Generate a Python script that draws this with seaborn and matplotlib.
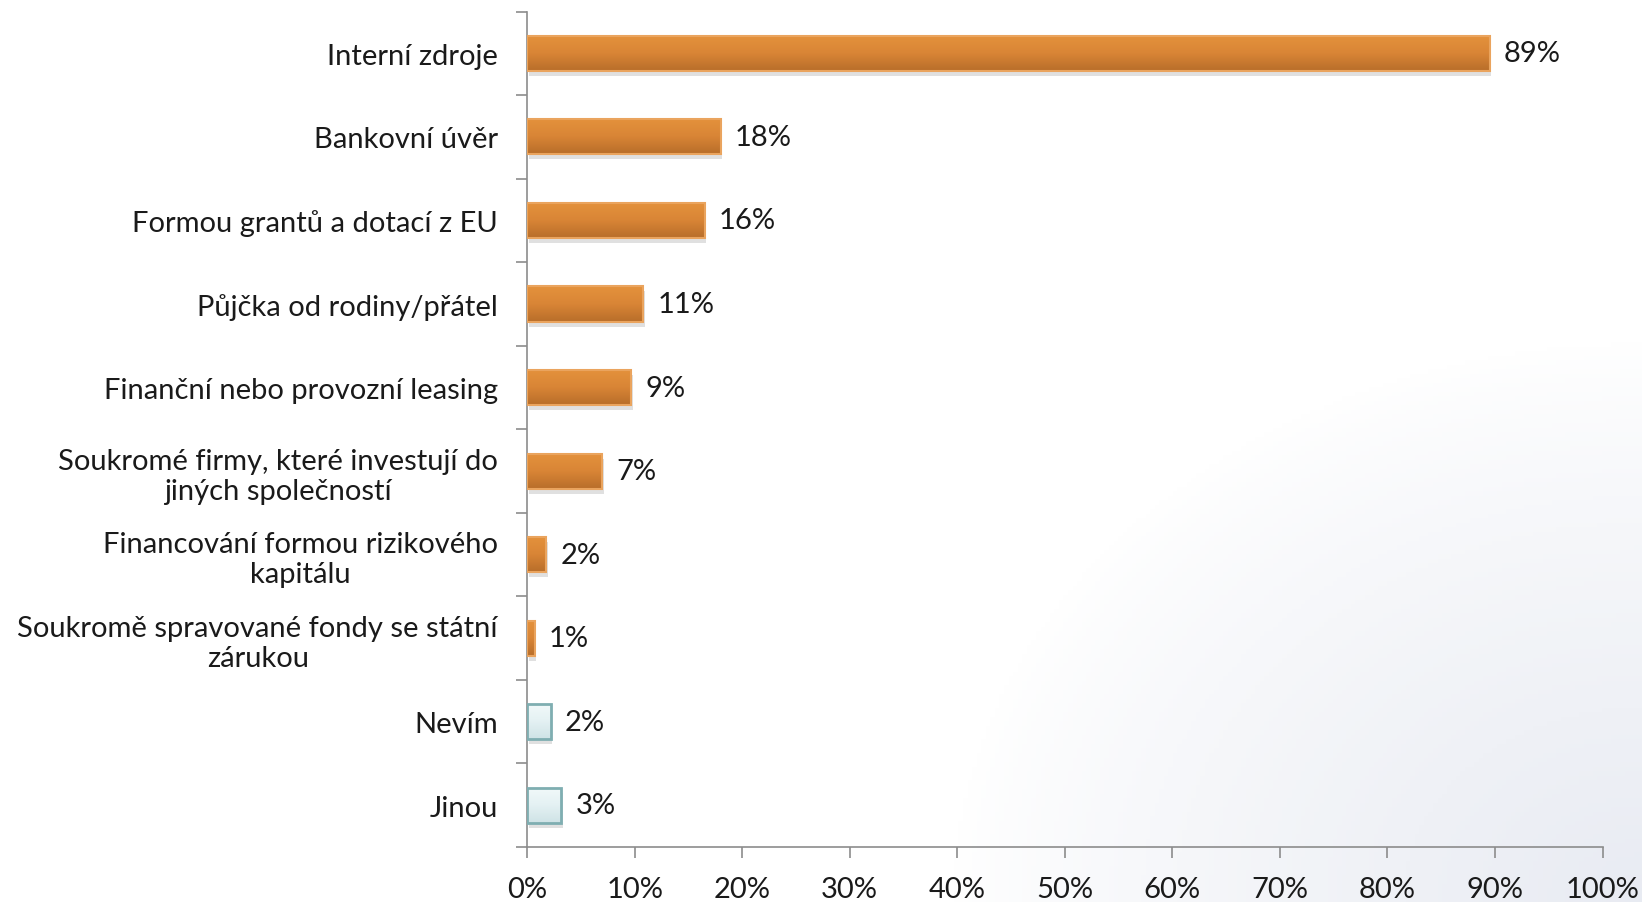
import numpy as np
import pandas as pd
import matplotlib
matplotlib.use("Agg")
import matplotlib.pyplot as plt
import seaborn as sns
from matplotlib.colors import LinearSegmentedColormap
from matplotlib.ticker import FixedLocator, PercentFormatter

categories = [
    "Interní zdroje",
    "Bankovní úvěr",
    "Formou grantů a dotací z EU",
    "Půjčka od rodiny/přátel",
    "Finanční nebo provozní leasing",
    "Soukromé firmy, které investují do\njiných společností",
    "Financování formou rizikového\nkapitálu",
    "Soukromě spravované fondy se státní\nzárukou",
    "Nevím",
    "Jinou",
]
values = [89.5, 18, 16.5, 10.8, 9.7, 7, 1.8, 0.7, 2.2, 3.2]
labels = ["89%", "18%", "16%", "11%", "9%", "7%", "2%", "1%", "2%", "3%"]
groups = ["main"] * 8 + ["other"] * 2
xticks = list(range(0, 101, 10))

sns.set_theme(style="white")
plt.rcParams["font.family"] = ["Lato", "DejaVu Sans"]

df = pd.DataFrame({"cat": categories, "val": values, "grp": groups})

fig = plt.figure(figsize=(16.42, 9.03), dpi=100)
fig.patch.set_facecolor("white")

# faint decorative background in the lower right corner
bg = fig.add_axes([0, 0, 1, 1], zorder=-10)
bg.set_axis_off()
yy, xx = np.mgrid[0:1:200j, 0:1:360j]
dist = np.sqrt(((xx - 1.0) / 0.42) ** 2 + ((yy - 0.0) / 0.62) ** 2)
alpha = np.clip(1.0 - dist, 0, 1) ** 0.8 * 0.55
rgba = np.zeros((200, 360, 4))
rgba[..., 0] = 0.84
rgba[..., 1] = 0.86
rgba[..., 2] = 0.91
rgba[..., 3] = alpha
bg.imshow(rgba, extent=[0, 1, 0, 1], origin="lower", aspect="auto")
bg.set_xlim(0, 1)
bg.set_ylim(0, 1)

ax = fig.add_axes([0.321, 0.061, 0.655, 0.925])
ax.patch.set_alpha(0)

palette = {"main": "#D98535", "other": "#E4F2F4"}
sns.barplot(data=df, y="cat", x="val", hue="grp", palette=palette, dodge=False,
            width=0.42, legend=False, ax=ax, orient="h", zorder=3)

orange_cmap = LinearSegmentedColormap.from_list("o", ["#E4923C", "#D98536", "#B86E2A"])
cyan_cmap = LinearSegmentedColormap.from_list("c", ["#F2F9FA", "#E4F1F3", "#CFE3E6"])
grad = np.linspace(0, 1, 64).reshape(-1, 1)

for p in list(ax.patches):
    w = p.get_width()
    if w <= 0:
        continue
    y0 = p.get_y()
    h = p.get_height()
    is_main = p.get_facecolor()[0] > 0.7 and p.get_facecolor()[2] < 0.5
    # shadow
    ax.add_patch(plt.Rectangle((p.get_x() + 0.15, y0 + 0.06), w, h,
                               facecolor="#000000", alpha=0.12, edgecolor="none", zorder=2))
    cmap = orange_cmap if is_main else cyan_cmap
    im = ax.imshow(grad, cmap=cmap, extent=[p.get_x(), p.get_x() + w, y0 + h, y0],
                   aspect="auto", zorder=4, interpolation="bicubic")
    im.set_clip_path(p)
    p.set_edgecolor("#EAA45E" if is_main else "#7FAEB1")
    p.set_linewidth(1.5 if is_main else 2.0)
    p.set_zorder(5)
    p.set_facecolor("none")

for i, (v, lab) in enumerate(zip(values, labels)):
    ax.text(v + 1.3, i, lab, va="center", ha="left", fontsize=21, color="#1a1a1a", zorder=6)

ax.set_xlim(0, 100)
ax.set_ylim(len(categories) - 0.5, -0.5)
ax.set_xticks(xticks)
ax.xaxis.set_major_formatter(PercentFormatter(decimals=0))
ax.set_xlabel("")
ax.set_ylabel("")

ax.set_yticks(range(len(categories)))
ax.set_yticklabels(categories, fontsize=21, color="#1a1a1a", multialignment="center")
ax.yaxis.set_minor_locator(FixedLocator(np.arange(-0.5, len(categories), 1)))
ax.tick_params(axis="y", which="major", length=0, pad=21)
ax.tick_params(axis="y", which="minor", length=8, width=1.2, color="#8C8C8C", direction="out", left=True)
ax.tick_params(axis="x", which="major", length=8, width=1.2, color="#8C8C8C", direction="out",
               bottom=True, labelsize=21, labelcolor="#1a1a1a", pad=13)

for s in ["top", "right"]:
    ax.spines[s].set_visible(False)
for s in ["left", "bottom"]:
    ax.spines[s].set_color("#8C8C8C")
    ax.spines[s].set_linewidth(1.2)

fig.savefig("out.png", dpi=100, facecolor="white")
